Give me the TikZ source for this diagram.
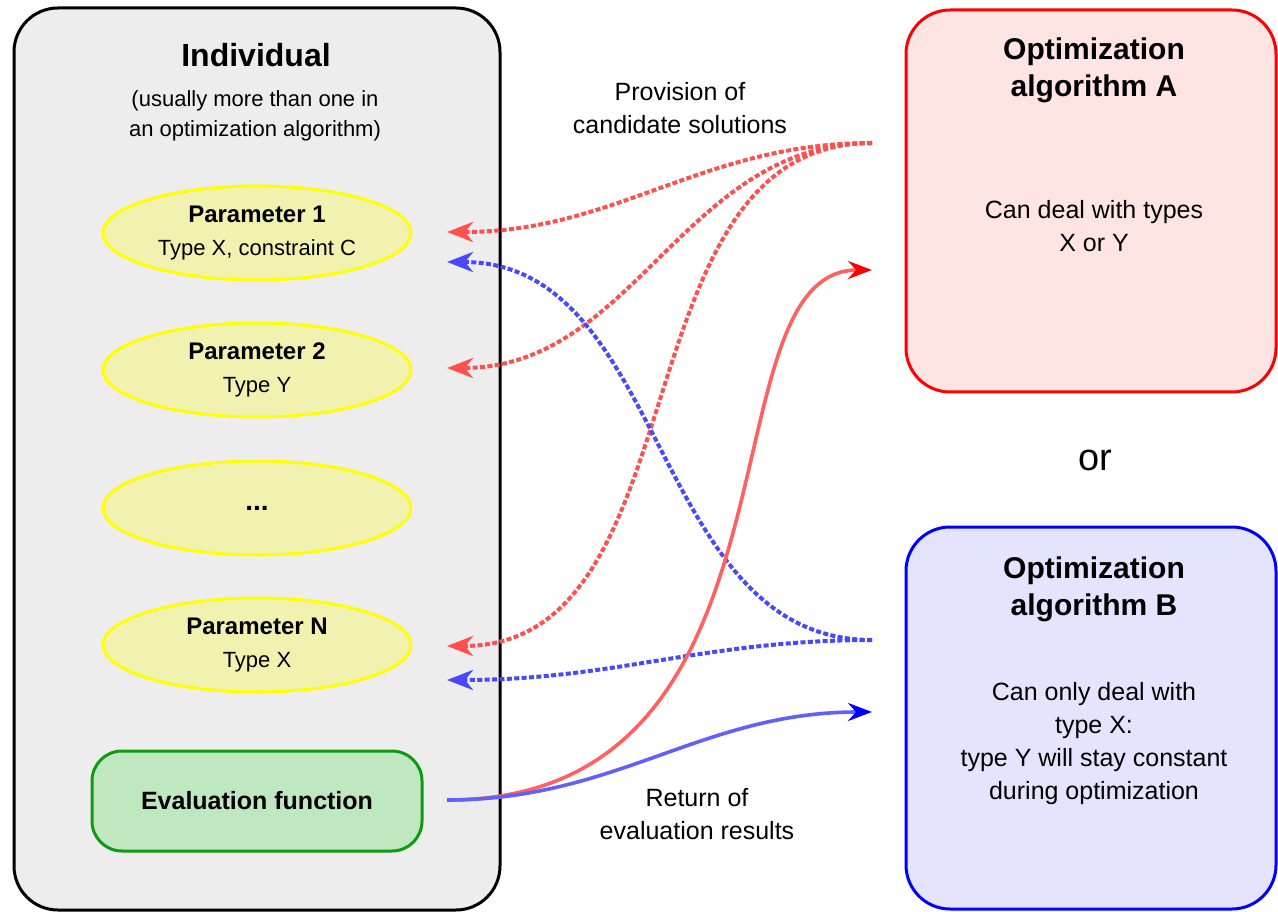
\documentclass[tikz,border=0pt]{standalone}
\usepackage{fontspec}
\setmainfont{Liberation Sans}
\usetikzlibrary{arrows.meta,shapes.geometric}
\definecolor{boxgray}{HTML}{EDEDED}
\definecolor{paramfill}{HTML}{F2F2B0}
\definecolor{paramline}{HTML}{FFFF00}
\definecolor{evalfill}{HTML}{C0E8C0}
\definecolor{evalline}{HTML}{109A10}
\definecolor{afill}{HTML}{FFE4E4}
\definecolor{bfill}{HTML}{E4E4FF}
\definecolor{redline}{HTML}{FF5050}
\definecolor{blueline}{HTML}{4848FF}
\definecolor{redsolid}{HTML}{FF6060}
\definecolor{bluesolid}{HTML}{6060FF}

\begin{document}
\begin{tikzpicture}[x=0.5pt,y=0.5pt,
			group box/.style={
				draw, line width=1.5pt, rounded corners=22pt,
				minimum width=243pt, minimum height=451pt, fill=boxgray
			},
			algo box/.style={
				draw, line width=1.5pt, rounded corners=22pt,
				minimum width=185pt, minimum height=191pt
			},
			param node/.style={
				ellipse, draw=paramline, fill=paramfill, line width=1.5pt,
				minimum width=154pt, minimum height=47pt, inner sep=0pt,
				align=center, font=\fontsize{11}{16.5}\selectfont
			},
			eval node/.style={
				draw=evalline, fill=evalfill, line width=1.5pt, rounded corners=15pt,
				minimum width=165pt, minimum height=50pt,
				font=\fontsize{12.5}{15}\selectfont\bfseries
			},
			title node/.style={align=center, font=\fontsize{15}{18.5}\selectfont\bfseries},
			label node/.style={align=center, font=\fontsize{12.5}{16.5}\selectfont},
			provide red/.style={
				redline, line width=2pt, dash pattern=on 2.5pt off 1.2pt,
				-{Stealth[length=13pt,width=10pt,inset=4pt]}
			},
			provide blue/.style={provide red, blueline},
			return red/.style={
				redsolid, line width=1.8pt,
				-{Stealth[length=12pt,width=9pt,inset=4pt,red]}
			},
			return blue/.style={
				bluesolid, line width=1.8pt,
				-{Stealth[length=12pt,width=9pt,inset=4pt,blue]}
			}
			]
			\useasboundingbox (0,0) rectangle (1278,911);
			
			\node[group box] (indiv) at (257,452) {};
			\node[font=\fontsize{16}{19}\selectfont\bfseries] (indivtitle) at (256,856) {Individual};
			\node[align=center, font=\fontsize{11}{15}\selectfont] (indivnote) at (255,795)
				{(usually more than one in\\an optimization algorithm)};
			
			\node[param node] (p1) at (257,678) {{\bfseries\fontsize{12}{15}\selectfont Parameter 1}\\Type X, constraint C};
			\node[param node] (p2) at (257,541) {{\bfseries\fontsize{12}{15}\selectfont Parameter 2}\\Type Y};
			\node[param node] (pdots) at (257,403) {{\bfseries\fontsize{14}{15}\selectfont ...}};
			\node[param node] (pN) at (257,266) {{\bfseries\fontsize{12}{15}\selectfont Parameter N}\\Type X};
			\node[eval node] (eval) at (257,110) {Evaluation function};
			
			\node[algo box, draw=red, fill=afill] (optA) at (1091,710) {};
			\node[title node] (optAtitle) at (1094,841) {Optimization\\algorithm A};
			\node[label node] (optAtext) at (1094,685) {Can deal with types\\X or Y};
			
			\node[font=\fontsize{19}{22}\selectfont] (or) at (1095,451) {or};
			
			\node[algo box, draw=blue, fill=bfill] (optB) at (1091,193) {};
			\node[title node] (optBtitle) at (1094,322) {Optimization\\algorithm B};
			\node[label node] (optBtext) at (1094,167)
				{Can only deal with\\type X:\\type Y will stay constant\\during optimization};
			
			\node[label node] (provision) at (680,803) {Provision of\\candidate solutions};
			\node[label node] (return) at (697,97) {Return of\\evaluation results};
			
			\coordinate (aout) at (872,768);
			\coordinate (bout) at (872,271);
			\coordinate (ain) at (872,641);
			\coordinate (bin) at (872,199);
			\coordinate (p1red) at (447,679);
			\coordinate (p1blue) at (447,649);
			\coordinate (p2red) at (447,543);
			\coordinate (pNred) at (447,265);
			\coordinate (pNblue) at (447,231);
			\coordinate (evalout) at (447,111);
			
			\draw[provide red] (aout) to[out=180, in=0] (p1red);
			\draw[provide red] (aout) to[out=180, in=0] (p2red);
			\draw[provide red] (aout) to[out=180, in=0] (pNred);
			\draw[provide blue] (bout) to[out=180, in=0] (p1blue);
			\draw[provide blue] (bout) to[out=180, in=0] (pNblue);
			
			\draw[return red] (evalout) to[out=0, in=180, out looseness=1.4, in looseness=0.65] (ain);
			\draw[return blue] (evalout) to[out=0, in=180] (bin);
			
		\end{tikzpicture}
\end{document}
